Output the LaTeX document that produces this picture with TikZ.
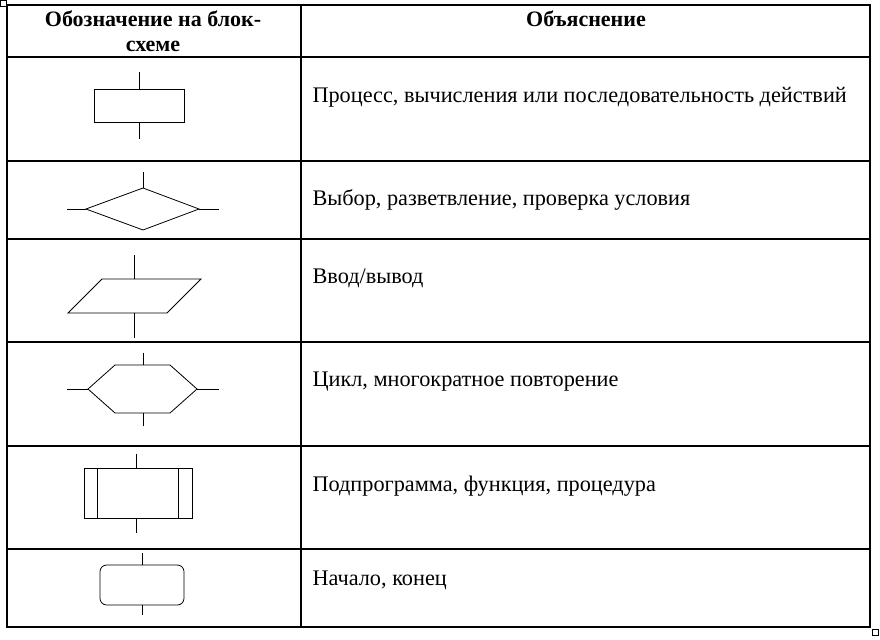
\documentclass[tikz,border=0pt]{standalone}
\usepackage{fontspec}
\setmainfont{Liberation Serif}
\begin{document}
\begin{tikzpicture}[x=0.75pt,y=-0.75pt,line width=0.8pt,
  txt/.style={anchor=west,inner sep=0pt,font=\fontsize{16.7pt}{19pt}\selectfont},
  hdr/.style={inner sep=0pt,align=center,font=\bfseries\fontsize{16.5pt}{19pt}\selectfont},
  sym/.style={line width=0.6pt}]
\useasboundingbox (0,0) rectangle (880,639);
% table
\draw (7,5) rectangle (870,627);
\draw (301,5) -- (301,627);
\foreach \y in {57,161,239,342,446,549} \draw (7,\y) -- (870,\y);
\draw[line width=0.5pt] (0,0) rectangle (6,6);
\draw[line width=0.5pt] (872,629) rectangle (878,635);
% headers
\node[hdr] (h1) at (153,31) {Обозначение на блок-\\схеме};
\node[hdr] (h2) at (586,19) {Объяснение};
% texts
\node[txt] (t1) at (312,97) {Процесс, вычисления или последовательность действий};
\node[txt] (t2) at (312,200) {Выбор, разветвление, проверка условия};
\node[txt] (t3) at (312,278) {Ввод/вывод};
\node[txt] (t4) at (312,382) {Цикл, многократное повторение};
\node[txt] (t5) at (312,486) {Подпрограмма, функция, процедура};
\node[txt] (t6) at (312,580) {Начало, конец};
% process
\draw[sym] (94,89) rectangle (184,122);
\draw[sym] (139,72) -- (139,89) (139,122) -- (139,139);
% decision
\draw[sym] (143,188) -- (199,209) -- (143,230) -- (86,209) -- cycle;
\draw[sym] (143,172) -- (143,188) (67,209) -- (86,209) (199,209) -- (219,209);
% io
\draw[sym] (102,279) -- (201,279) -- (167,313) -- (68,313) -- cycle;
\draw[sym] (134,255) -- (134,279) (134,313) -- (134,338);
% loop
\draw[sym] (115,365) -- (170,365) -- (197,389) -- (170,413) -- (115,413) -- (88,389) -- cycle;
\draw[sym] (143,353) -- (143,365) (143,413) -- (143,426) (67,389) -- (88,389) (197,389) -- (219,389);
% subprogram
\draw[sym] (84,468) rectangle (192,518);
\draw[sym] (97,468) -- (97,518) (178,468) -- (178,518);
\draw[sym] (136,454) -- (136,468) (136,518) -- (136,533);
% terminal
\draw[sym,rounded corners=5] (100,565) rectangle (184,605);
\draw[sym] (142,553) -- (142,565) (142,605) -- (142,615);
\end{tikzpicture}
\end{document}
